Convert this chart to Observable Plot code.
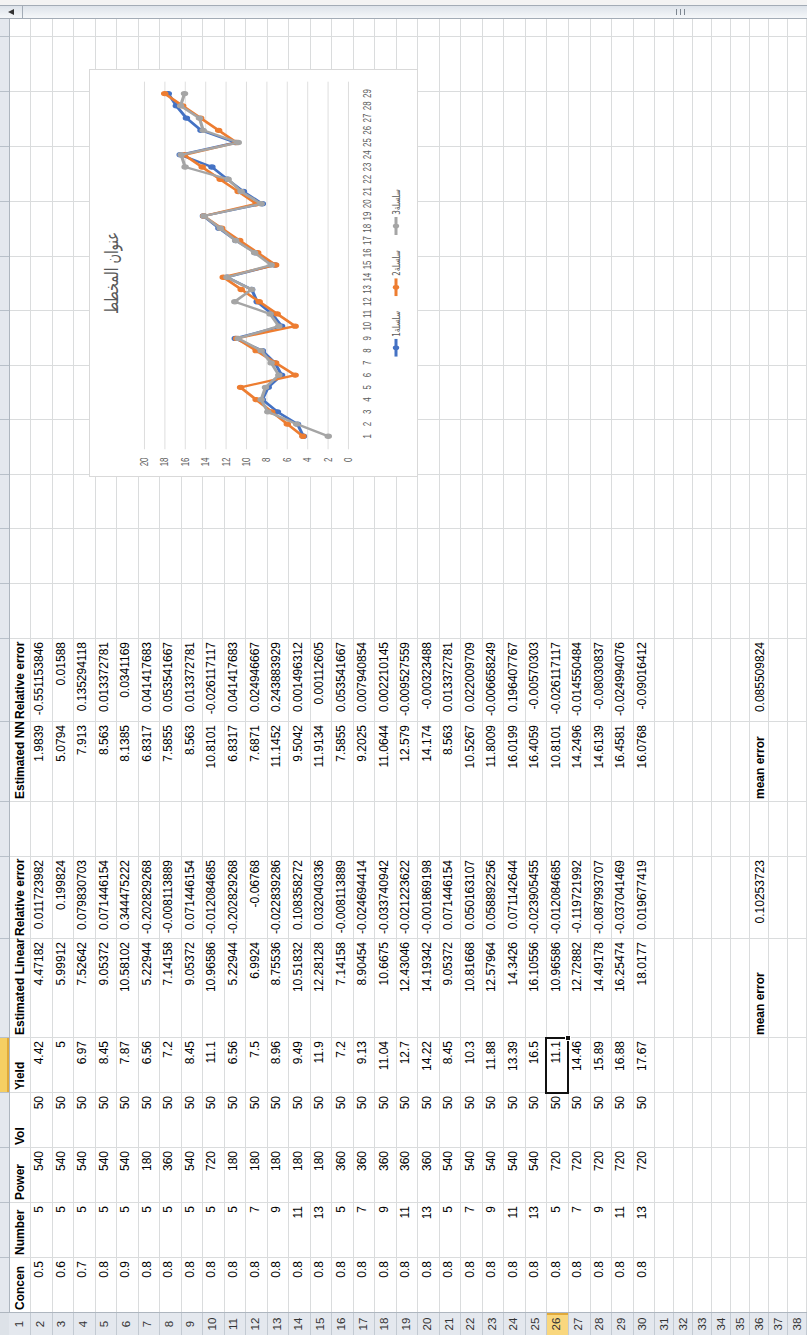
<!DOCTYPE html>
<html>
<head>
<meta charset="utf-8">
<script src="https://cdn.jsdelivr.net/npm/d3@7"></script>
<script src="https://cdn.jsdelivr.net/npm/@observablehq/plot@0.6"></script>
<style>
html, body { margin:0; padding:0; background:#fff; width:807px; height:1335px; overflow:hidden; }
#sheet { position:absolute; left:0; top:0; width:1335px; height:807px; transform-origin:0 0;
  transform: translate(0px,1335px) rotate(-90deg); background:#fff; overflow:hidden;
  font-family:"Liberation Sans", Arial, sans-serif; font-size:12px; color:#000; }
.t { position:absolute; white-space:nowrap; line-height:14px; }
</style>
</head>
<body>
<div id="sheet"></div>
<script>
// ---------------- data ----------------
const headers = ["Concen","Number","Power","Vol","Yield","Estimated Linear","Relative error","","Estimated NN","Relative error"];
const concen = [0.5,0.6,0.7,0.8,0.9,0.8,0.8,0.8,0.8,0.8,0.8,0.8,0.8,0.8,0.8,0.8,0.8,0.8,0.8,0.8,0.8,0.8,0.8,0.8,0.8,0.8,0.8,0.8,0.8];
const number = [5,5,5,5,5,5,5,5,5,5,7,9,11,13,5,7,9,11,13,5,7,9,11,13,5,7,9,11,13];
const power = [540,540,540,540,540,180,360,540,720,180,180,180,180,180,360,360,360,360,360,540,540,540,540,540,720,720,720,720,720];
const vol = [50,50,50,50,50,50,50,50,50,50,50,50,50,50,50,50,50,50,50,50,50,50,50,50,50,50,50,50,50];
const yieldVals = [4.42,5,6.97,8.45,7.87,6.56,7.2,8.45,11.1,6.56,7.5,8.96,9.49,11.9,7.2,9.13,11.04,12.7,14.22,8.45,10.3,11.88,13.39,16.5,11.1,14.46,15.89,16.88,17.67];
const estLinear = [4.47182,5.99912,7.52642,9.05372,10.58102,5.22944,7.14158,9.05372,10.96586,5.22944,6.9924,8.75536,10.51832,12.28128,7.14158,8.90454,10.6675,12.43046,14.19342,9.05372,10.81668,12.57964,14.3426,16.10556,10.96586,12.72882,14.49178,16.25474,18.0177];
const relErrLinear = [0.011723982,0.199824,0.079830703,0.071446154,0.344475222,-0.202829268,-0.008113889,0.071446154,-0.012084685,-0.202829268,-0.06768,-0.022839286,0.108358272,0.032040336,-0.008113889,-0.024694414,-0.033740942,-0.021223622,-0.001869198,0.071446154,0.050163107,0.058892256,0.071142644,-0.023905455,-0.012084685,-0.119721992,-0.087993707,-0.037041469,0.019677419];
const estNN = [1.9839,5.0794,7.913,8.563,8.1385,6.8317,7.5855,8.563,10.8101,6.8317,7.6871,11.1452,9.5042,11.9134,7.5855,9.2025,11.0644,12.579,14.174,8.563,10.5267,11.8009,16.0199,16.4059,10.8101,14.2496,14.6139,16.4581,16.0768];
const relErrNN = [-0.551153846,0.01588,0.135294118,0.013372781,0.0341169,0.041417683,0.053541667,0.013372781,-0.026117117,0.041417683,0.024946667,0.243883929,0.001496312,0.00112605,0.053541667,0.007940854,0.002210145,-0.009527559,-0.00323488,0.013372781,0.022009709,-0.006658249,0.196407767,-0.00570303,-0.026117117,-0.014550484,-0.08030837,-0.024994076,-0.09016412];
const meanLabel = "mean error";
const meanErrLinear = 0.10253723;
const meanErrNN = 0.085509824;

const categories = [1,2,3,4,5,6,7,8,9,10,11,12,13,14,15,16,17,18,19,20,21,22,23,24,25,26,27,28,29];
const valueTicks = [0,2,4,6,8,10,12,14,16,18,20];
const seriesNames = ["سلسلة1","سلسلة2","سلسلة3"];
const seriesColors = ["#4472C4","#ED7D31","#A5A5A5"];
const chartTitle = "عنوان المخطط";

// ---------------- layout (unrotated sheet coordinates) ----------------
const sheet = document.getElementById("sheet");
const COL_EDGES = [0,22,77,132,187,242,297,396,478,533,613,696,751,806,860,915,969,1024,1078,1133,1188,1243,1298,1353];
const ROW_EDGES = [0, 9, 30];
for (let r = 2; r <= 38; r++) ROW_EDGES.push(ROW_EDGES[ROW_EDGES.length - 1] + (r <= 30 ? 21.52 : 19));
const SB = 1316; // scrollbar start

function box(l, t, w, h, style) {
  const d = document.createElement("div");
  d.style.cssText = `position:absolute;left:${l}px;top:${t}px;width:${w}px;height:${h}px;${style || ""}`;
  sheet.appendChild(d);
  return d;
}
function cellText(col, row, str, align, bold) {
  const u0 = COL_EDGES[col + 1], u1 = COL_EDGES[col + 2];
  const top = ROW_EDGES[row], h = ROW_EDGES[row + 1] - top;
  const off = h > 20 ? (row === 1 ? 3.5 : 2.3) : 4.3;
  const d = document.createElement("div");
  d.className = "t";
  d.textContent = str;
  d.style.top = (top + off) + "px";
  if (align === "right") d.style.right = (1335 - u1 + 3) + "px";
  else d.style.left = (u0 + 3) + "px";
  if (bold) d.style.fontWeight = "bold";
  sheet.appendChild(d);
}

// header strips
box(22, 0, SB - 22, 9, "background:#e4e8ee;");
box(0, 9, 22, 807, "background:#e4e8ee;");
box(0, 0, 22, 9, "background:#dde2e8;");
// highlighted column E header and row 26 header
box(COL_EDGES[5], 0, COL_EDGES[6] - COL_EDGES[5], 9, "background:#f6cf63;border-bottom:2px solid #e0a93a;box-sizing:border-box;");
box(0, ROW_EDGES[26], 22, ROW_EDGES[27] - ROW_EDGES[26], "background:#f9d77e;border-right:2px solid #e0a93a;box-sizing:border-box;");

// grid lines
for (let i = 2; i < COL_EDGES.length; i++) {
  if (COL_EDGES[i] >= SB) break;
  box(COL_EDGES[i], 9, 1, 807, "background:#dadcdd;");
  box(COL_EDGES[i], 0, 1, 9, "background:#b8c0c9;");
}
box(22, 0, 1, 807, "background:#aeb6bf;");
box(22, 9, SB - 22, 1, "background:#aeb6bf;");
for (let r = 2; r < ROW_EDGES.length; r++) {
  box(23, ROW_EDGES[r], SB - 23, 1, "background:#dadcdd;");
  box(0, ROW_EDGES[r], 22, 1, "background:#c3cad2;");
}

// row numbers
for (let r = 1; r <= 38; r++) {
  const top = ROW_EDGES[r], h = ROW_EDGES[r + 1] - top;
  const d = document.createElement("div");
  d.className = "t";
  d.textContent = String(r);
  d.style.cssText += `left:0;width:22px;text-align:center;top:${top + (h > 20 ? 2.8 : 3.3)}px;color:#333;font-size:11.5px;`;
  sheet.appendChild(d);
}

// header row
headers.forEach((h, c) => { if (h) cellText(c, 1, h, "left", true); });
// data rows
const columns = [concen, number, power, vol, yieldVals, estLinear, relErrLinear, null, estNN, relErrNN];
for (let i = 0; i < categories.length; i++) {
  columns.forEach((col, c) => { if (col) cellText(c, i + 2, String(col[i]), "right", false); });
}
// mean error row (36)
cellText(5, 36, meanLabel, "left", true);
cellText(6, 36, String(meanErrLinear), "right", false);
cellText(8, 36, meanLabel, "left", true);
cellText(9, 36, String(meanErrNN), "right", false);

// selected cell E26
{
  const u0 = COL_EDGES[5], u1 = COL_EDGES[6], v0 = ROW_EDGES[26], v1 = ROW_EDGES[27];
  box(u0 - 1, v0 - 1, u1 - u0 + 2, v1 - v0 + 2, "border:2px solid #111;box-sizing:border-box;");
  box(u1 - 3, v1 - 3, 6, 6, "background:#111;border:1px solid #fff;box-sizing:border-box;");
}

// scrollbar
box(SB, 0, 14, 807, "background:linear-gradient(to right,#f5f7f9,#dde3ea);border-left:1px solid #a3acb6;border-right:1px solid #a3acb6;box-sizing:border-box;");
box(1330, 0, 5, 807, "background:#f3f3f3;");
box(SB + 3.5, 8, 0, 0, "border-left:3.5px solid transparent;border-right:3.5px solid transparent;border-bottom:6px solid #333;");
box(SB, 22, 14, 1, "background:#a3acb6;");
[676, 680, 684].forEach(v => box(SB + 4, v, 6, 1, "background:#7d8690;"));

// ---------------- chart ----------------
const K = 0.72;                // horizontal squeeze of the chart image
const CBOX_W = 408, CBOX_H = 329;
const CHART_W = CBOX_W / K;
const chartBox = box(858, 89, CBOX_W, CBOX_H, "background:#fff;outline:1px solid #d9d9d9;outline-offset:-1px;overflow:hidden;");
const inner = document.createElement("div");
inner.style.cssText = `position:absolute;left:0;top:0;width:${CHART_W}px;height:${CBOX_H}px;transform-origin:0 0;transform:scaleX(${K});`;
chartBox.appendChild(inner);

const records = [];
[yieldVals, estLinear, estNN].forEach((vals, k) =>
  vals.forEach((v, i) => records.push({cat: categories[i], value: v, series: seriesNames[k]})));

const marks = [
  Plot.gridY(valueTicks, {stroke: "#d9d9d9", strokeOpacity: 1, strokeWidth: 1}),
  Plot.axisY(valueTicks, {tickSize: 0, tickPadding: 12, label: null, fill: "#595959", fontSize: 11}),
  Plot.axisX(categories, {tickSize: 0, tickPadding: 15, label: null, fill: "#595959", fontSize: 11})
];
seriesNames.forEach(name => {
  const sub = records.filter(d => d.series === name);
  marks.push(Plot.line(sub, {x: "cat", y: "value", stroke: "series", strokeWidth: 3.2}));
  marks.push(Plot.dot(sub, {x: "cat", y: "value", fill: "series", stroke: "series", r: 3}));
});

const chart = Plot.plot({
  width: CHART_W, height: CBOX_H,
  marginLeft: 38.5, marginRight: 17.6, marginTop: 55, marginBottom: 70,
  x: {type: "point", domain: categories, padding: 0.5},
  y: {type: "linear", domain: [0, 20]},
  color: {domain: seriesNames, range: seriesColors},
  style: {background: "transparent", fontFamily: "Liberation Sans, Arial, sans-serif", fontSize: "11px", color: "#595959", overflow: "visible"},
  marks
});
chart.style.position = "absolute";
chart.style.left = "0px";
chart.style.top = "0px";
chart.style.maxWidth = "none";
inner.appendChild(chart);

// title
const title = document.createElement("div");
title.textContent = chartTitle;
title.style.cssText = `position:absolute;left:0;top:11px;width:${CHART_W}px;text-align:center;direction:rtl;font-family:"DejaVu Sans",sans-serif;font-size:18px;line-height:24px;color:#595959;`;
inner.appendChild(title);

// legend
const legend = document.createElement("div");
legend.style.cssText = `position:absolute;left:0;top:299px;width:${CHART_W}px;display:flex;justify-content:center;align-items:center;height:16px;`;
seriesNames.forEach((name, k) => {
  const item = document.createElement("div");
  item.style.cssText = `display:flex;align-items:center;${k < seriesNames.length - 1 ? "width:84.7px;" : ""}`;
  item.innerHTML = `<svg width="25" height="12" style="display:block"><line x1="0" x2="25" y1="6" y2="6" stroke="${seriesColors[k]}" stroke-width="3"/><circle cx="12.5" cy="6" r="3.2" fill="${seriesColors[k]}"/></svg>` +
    `<span style="margin-left:3px;font-family:'DejaVu Sans',sans-serif;font-size:10px;color:#595959;direction:rtl;unicode-bidi:isolate;">${name}</span>`;
  legend.appendChild(item);
});
inner.appendChild(legend);
</script>
</body>
</html>
